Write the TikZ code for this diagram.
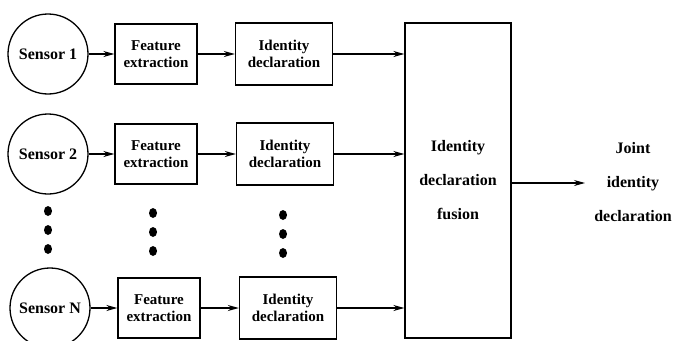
\documentclass[tikz,border=0pt]{standalone}
\usepackage{fontspec}
\setmainfont{Liberation Serif}
\usetikzlibrary{arrows.meta}
\begin{document}
\begin{tikzpicture}[x=1pt,y=-1pt,line width=1.3pt,
  txt/.style={font=\bfseries\fontsize{15}{17}\selectfont,align=center,inner sep=0pt},
  box/.style={txt,draw,minimum width=82pt,minimum height=60pt},
  idbox/.style={txt,draw,minimum width=97pt,minimum height=62pt},
  sensor/.style={txt,draw,circle,minimum size=80pt,font=\bfseries\fontsize{16}{17}\selectfont},
  bigtxt/.style={txt,font=\bfseries\fontsize{16}{34}\selectfont},
  arr/.style={-{Stealth[length=11pt,width=6pt]}}]
\useasboundingbox (0,0) rectangle (674,340);
% sensors
\node[sensor] (s1) at (48,54) {Sensor 1};
\node[sensor] (s2) at (48,154) {Sensor 2};
\node[sensor] (sN) at (50,308) {Sensor N};
% feature extraction
\node[box] (f1) at (156,54) {Feature\\extraction};
\node[box] (f2) at (156,154) {Feature\\extraction};
\node[box] (fN) at (159,308) {Feature\\extraction};
% identity declaration
\node[idbox] (i1) at (284,54) {Identity\\declaration};
\node[idbox] (i2) at (285,154) {Identity\\declaration};
\node[idbox] (iN) at (288,308) {Identity\\declaration};
% fusion
\node[bigtxt,draw,minimum width=106pt,minimum height=315pt] (fus) at (458,180.5) {Identity\\declaration\\fusion};
\coordinate (out) at (585,183);
\node[bigtxt] (joint) at (633,182) {Joint\\identity\\declaration};
% connectors
\draw[arr] (s1) -- (f1);
\draw[arr] (s2) -- (f2);
\draw[arr] (sN) -- (fN);
\draw[arr] (f1) -- (i1);
\draw[arr] (f2) -- (i2);
\draw[arr] (fN) -- (iN);
\draw[arr] (i1) -- (i1 -| fus.west);
\draw[arr] (i2) -- (i2 -| fus.west);
\draw[arr] (iN) -- (iN -| fus.west);
\draw[arr] (fus.east |- out) -- (out);
% dots
\foreach \y in {211,230,249} \fill (48,\y) ellipse (4 and 5);
\foreach \y in {213,232,251} \fill (153,\y) ellipse (4 and 5);
\foreach \y in {215,234,253} \fill (283,\y) ellipse (4 and 5);
\end{tikzpicture}
\end{document}
